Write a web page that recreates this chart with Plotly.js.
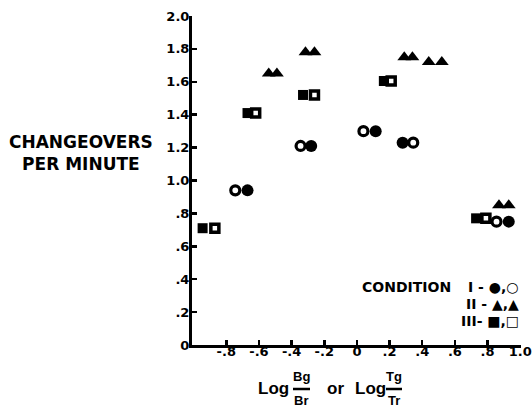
<!DOCTYPE html>
<html>
<head>
<meta charset="utf-8">
<script src="https://cdn.plot.ly/plotly-3.0.1.min.js"></script>
<style>html,body{margin:0;padding:0;background:#fff;}#chart{width:532px;height:411px;}</style>
</head>
<body>
<div id="chart"></div>
<script>
// Condition I: filled and open circles
const circleFilledX = [-0.67, -0.28, 0.115, 0.28, 0.93];
const circleFilledY = [0.94, 1.21, 1.30, 1.23, 0.75];
const circleOpenX = [-0.745, -0.345, 0.04, 0.345, 0.855];
const circleOpenY = [0.94, 1.21, 1.30, 1.23, 0.75];
// Condition II: triangles (both printed filled)
const triAX = [-0.54, -0.315, 0.29, 0.44, 0.87];
const triAY = [1.65, 1.78, 1.75, 1.72, 0.85];
const triBX = [-0.49, -0.26, 0.34, 0.52, 0.93];
const triBY = [1.65, 1.78, 1.75, 1.72, 0.85];
// Condition III: filled and open squares
const sqFilledX = [-0.945, -0.67, -0.33, 0.165, 0.73];
const sqFilledY = [0.71, 1.41, 1.52, 1.605, 0.77];
const sqOpenX = [-0.87, -0.62, -0.26, 0.21, 0.79];
const sqOpenY = [0.71, 1.41, 1.52, 1.605, 0.77];

const xTickVals = [-0.8, -0.6, -0.4, -0.2, 0, 0.2, 0.4, 0.6, 0.8, 1.0];
const xTickText = ['-.8', '-.6', '-.4', '-.2', '0', '.2', '.4', '.6', '.8', '1.0'];
const yTickVals = [0, 0.2, 0.4, 0.6, 0.8, 1.0, 1.2, 1.4, 1.6, 1.8, 2.0];
const yTickText = ['0', '.2', '.4', '.6', '.8', '1.0', '1.2', '1.4', '1.6', '1.8', '2.0'];

const L = 192, R = 521, T = 16, B = 345;
const W = R - L, H = B - T;
const px = x => (x - L) / W;
const py = y => (B - y) / H;

const bold = 'DejaVu Sans';
const tickFont = {family: 'DejaVu Sans', size: 13, color: '#000', weight: 'bold'};

function tr(x, y, symbol, size, lw) {
  return {
    type: 'scatter', mode: 'markers', x: x, y: y, hoverinfo: 'skip',
    marker: {symbol: symbol, size: size, color: '#000', line: {color: '#000', width: lw}}
  };
}

const data = [
  tr(circleFilledX, circleFilledY, 'circle', 12, 0),
  tr(circleOpenX, circleOpenY, 'circle-open', 9, 3.2),
  tr(triAX, triAY, 'triangle-up', 12, 0),
  tr(triBX, triBY, 'triangle-up', 12, 0),
  tr(sqFilledX, sqFilledY, 'square', 10, 0),
  tr(sqOpenX, sqOpenY, 'square-open', 8, 3.5)
];

function ann(text, x, y, size, xanchor, family) {
  return {text: text, xref: 'paper', yref: 'paper', x: px(x), y: py(y), showarrow: false,
    xanchor: xanchor || 'center', yanchor: 'middle',
    font: {family: family || bold, size: size, color: '#000', weight: 'bold'}};
}

const annotations = [
  ann('CHANGEOVERS<br>PER MINUTE', 81, 153, 17),
  ann('CONDITION', 360, 287, 14, 'left'),
  ann('I - ●,○', 521, 287, 14, 'right'),
  ann('II - ▲,▲', 521, 304, 14, 'right'),
  ann('III- ■,□', 521, 321, 14, 'right'),
  ann('Log', 273, 388, 17, 'center', 'Liberation Sans'),
  ann('Bg', 301, 376, 13, 'center', 'Liberation Sans'),
  ann('Br', 301, 400, 13, 'center', 'Liberation Sans'),
  ann('or', 335, 388, 17, 'center', 'Liberation Sans'),
  ann('Log', 370, 388, 17, 'center', 'Liberation Sans'),
  ann('Tg', 394, 376, 13, 'center', 'Liberation Sans'),
  ann('Tr', 394, 400, 13, 'center', 'Liberation Sans')
];

const shapes = [
  {type: 'line', xref: 'paper', yref: 'paper', x0: px(293), x1: px(310), y0: py(389), y1: py(389), line: {color: '#000', width: 2.5}},
  {type: 'line', xref: 'paper', yref: 'paper', x0: px(386), x1: px(402), y0: py(389), y1: py(389), line: {color: '#000', width: 2.5}}
];

const layout = {
  width: 532, height: 411,
  margin: {l: L, r: 532 - R, t: T, b: 411 - B, pad: 0},
  paper_bgcolor: '#fff', plot_bgcolor: '#fff',
  showlegend: false,
  xaxis: {
    range: [-1.01, 1.005], showgrid: false, zeroline: false,
    showline: true, linecolor: '#000', linewidth: 3,
    ticks: 'inside', ticklen: 5, tickwidth: 2.5, tickcolor: '#000',
    ticklabelstandoff: -8,
    tickvals: xTickVals, ticktext: xTickText, tickfont: tickFont
  },
  yaxis: {
    range: [0, 2.0], showgrid: false, zeroline: false,
    showline: true, linecolor: '#000', linewidth: 3,
    ticks: 'inside', ticklen: 5, tickwidth: 2.5, tickcolor: '#000',
    ticklabelstandoff: -3,
    tickvals: yTickVals, ticktext: yTickText, tickfont: tickFont
  },
  annotations: annotations,
  shapes: shapes
};

Plotly.newPlot('chart', data, layout, {displayModeBar: false, staticPlot: true});
</script>
</body>
</html>
